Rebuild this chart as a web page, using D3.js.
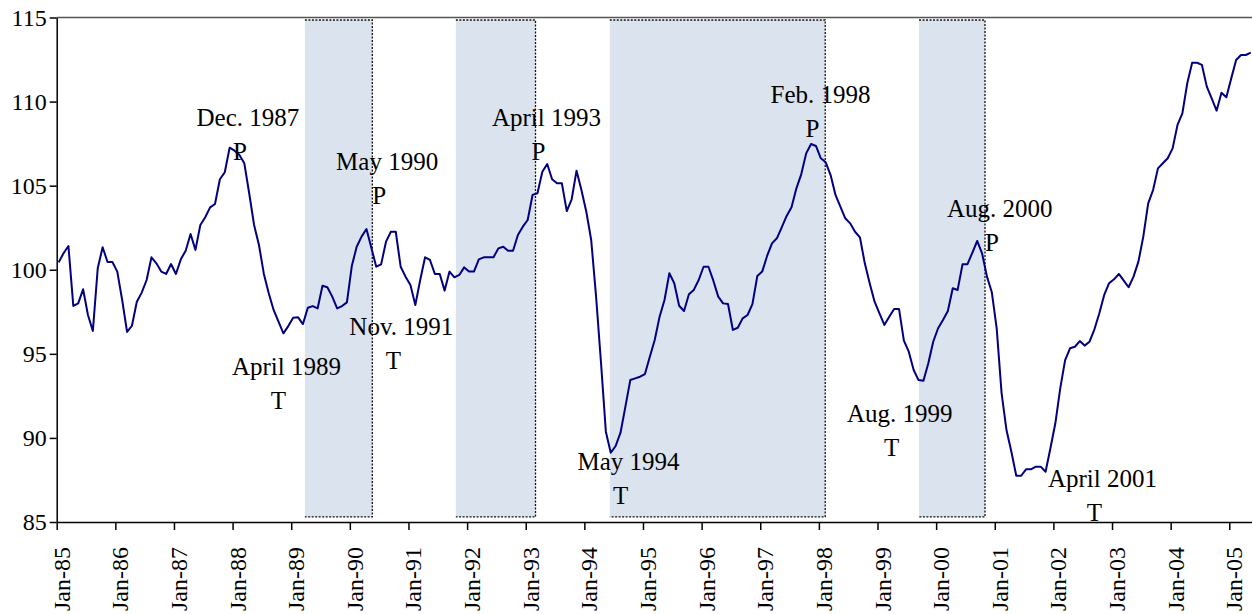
<!DOCTYPE html>
<html lang="en">
<head>
    <meta charset="UTF-8">
    <title>Index with peaks and troughs</title>
    <style>
        body {
            margin: 0;
            background: #fff;
        }

        svg text {
            font-family: "Liberation Serif", "Times New Roman", serif;
            fill: #000;
        }
    </style>
</head>
<body>
    <svg id="chart" width="1252" height="614"></svg>
    <script src="https://cdn.jsdelivr.net/npm/d3@7/dist/d3.min.js"></script>
    <script>
        // monthly index, Jan 1985 .. May 2005
        const values = [
            100.44, 100.98, 101.41, 97.85, 98.0, 98.84, 97.31, 96.36, 100.09, 101.34, 100.46, 100.46,
            99.89, 98.2, 96.3, 96.67, 98.1, 98.64, 99.39, 100.74, 100.38, 99.89, 99.75, 100.34,
            99.75, 100.62, 101.13, 102.13, 101.18, 102.66, 103.12, 103.71, 103.91, 105.38, 105.8, 107.26,
            107.08, 106.82, 106.33, 104.55, 102.66, 101.47, 99.75, 98.6, 97.61, 96.91, 96.22, 96.65,
            97.15, 97.17, 96.77, 97.74, 97.84, 97.7, 99.05, 98.96, 98.4, 97.7, 97.84, 98.06,
            100.22, 101.37, 101.97, 102.42, 101.31, 100.18, 100.32, 101.67, 102.26, 102.26, 100.18, 99.59,
            99.09, 97.9, 99.39, 100.74, 100.58, 99.75, 99.75, 98.76, 99.89, 99.55, 99.69, 100.14,
            99.89, 99.89, 100.62, 100.74, 100.74, 100.74, 101.27, 101.37, 101.13, 101.13, 102.07, 102.56,
            102.96, 104.45, 104.55, 105.83, 106.29, 105.38, 105.14, 105.14, 103.49, 104.19, 105.89, 104.74,
            103.45, 101.77, 98.4, 94.5, 90.37, 89.12, 89.52, 90.31, 91.86, 93.44, 93.54, 93.64,
            93.8, 94.83, 95.82, 97.21, 98.2, 99.79, 99.2, 97.86, 97.55, 98.54, 98.8, 99.39,
            100.18, 100.18, 99.35, 98.4, 98.0, 97.96, 96.42, 96.55, 97.11, 97.31, 97.96, 99.63,
            99.89, 100.82, 101.57, 101.87, 102.52, 103.2, 103.71, 104.84, 105.69, 106.92, 107.48, 107.36,
            106.63, 106.39, 105.63, 104.45, 103.75, 103.06, 102.76, 102.26, 101.93, 100.38, 99.2, 98.1,
            97.41, 96.72, 97.21, 97.67, 97.67, 95.78, 95.13, 94.04, 93.44, 93.4, 94.44, 95.72,
            96.52, 97.01, 97.55, 98.9, 98.8, 100.32, 100.32, 101.01, 101.71, 100.98, 99.59, 98.66,
            96.5, 92.65, 90.47, 89.18, 87.75, 87.75, 88.13, 88.13, 88.29, 88.29, 87.99, 89.4,
            90.87, 92.95, 94.63, 95.33, 95.42, 95.76, 95.49, 95.72, 96.46, 97.41, 98.5, 99.2,
            99.43, 99.75, 99.35, 98.96, 99.59, 100.48, 101.97, 103.95, 104.74, 106.03, 106.33, 106.63,
            107.22, 108.61, 109.3, 111.09, 112.31, 112.31, 112.18, 110.89, 110.19, 109.46, 110.53, 110.26,
            111.38, 112.47, 112.77, 112.77, 112.91
        ];

        const xTickLabels = ["Jan-85", "Jan-86", "Jan-87", "Jan-88", "Jan-89", "Jan-90", "Jan-91",
            "Jan-92", "Jan-93", "Jan-94", "Jan-95", "Jan-96", "Jan-97", "Jan-98", "Jan-99", "Jan-00",
            "Jan-01", "Jan-02", "Jan-03", "Jan-04", "Jan-05"];
        const yTicks = [85, 90, 95, 100, 105, 110, 115];

        // shaded periods, in months since Jan 1985
        const shadeStart = [50.8, 81.7, 113.2, 176.5];
        const shadeEnd = [64.6, 98.0, 157.3, 190.0];
        const shadeTop = 114.85;
        const shadeBottom = 85.3;

        // turning points: where the P / T letter sits (month, index value)
        const annLabels = ["Dec. 1987", "May 1990", "April 1993", "Feb. 1998", "Aug. 2000",
            "April 1989", "Nov. 1991", "May 1994", "Aug. 1999", "April 2001"];
        const annTypes = ["P", "P", "P", "P", "P", "T", "T", "T", "T", "T"];
        const annMonths = [37.5, 66.0, 98.6, 154.7, 191.4, 45.4, 68.9, 115.4, 170.9, 212.4];
        const annValues = [106.5, 103.9, 106.5, 107.9, 101.1, 91.7, 94.1, 86.05, 88.95, 85.05];

        const svg = d3.select("#chart");

        const x = d3.scaleLinear().domain([0, 244.65]).range([56.7, 1252]);
        const y = d3.scaleLinear().domain([85, 115]).range([522, 17.5]);

        // shaded periods
        const shades = svg.append("g");
        shadeStart.forEach((s, i) => {
            const x0 = x(s), x1 = x(shadeEnd[i]);
            const yt = y(shadeTop), yb = y(shadeBottom);
            shades.append("rect")
                .attr("x", x0).attr("y", yt)
                .attr("width", x1 - x0).attr("height", yb - yt)
                .attr("fill", "#dbe3ee");
            shades.append("path")
                .attr("d", `M${x0},${yt}H${x1}V${yb}H${x0}`)
                .attr("fill", "none")
                .attr("stroke", "#111")
                .attr("stroke-width", 1.3)
                .attr("stroke-dasharray", "2,1.5");
        });

        // frame top line
        svg.append("line")
            .attr("x1", x.range()[0]).attr("x2", x.range()[1])
            .attr("y1", y(115)).attr("y2", y(115))
            .attr("stroke", "#555").attr("stroke-width", 1.5);

        // y axis
        const yAxis = svg.append("g")
            .attr("transform", `translate(${x.range()[0]},0)`)
            .call(d3.axisLeft(y).tickValues(yTicks).tickSize(7).tickSizeOuter(0).tickPadding(3));
        yAxis.selectAll("text").style("font-size", "24px").attr("dy", "0.33em");

        // x axis
        const xAxis = svg.append("g")
            .attr("transform", `translate(0,${y(85)})`)
            .call(d3.axisBottom(x)
                .tickValues(d3.range(0, 241, 12))
                .tickFormat((d, i) => xTickLabels[i])
                .tickSize(8)
                .tickSizeOuter(0));
        xAxis.selectAll("text")
            .style("font-size", "24px")
            .attr("transform", "rotate(-90)")
            .attr("text-anchor", "end")
            .attr("x", -25)
            .attr("y", 12.5)
            .attr("dy", 0);

        svg.selectAll(".domain, .tick line").attr("stroke", "#000").attr("stroke-width", 1.5);

        // index line, each month plotted a little into the month
        const line = d3.line()
            .x((d, i) => x(i + 0.4))
            .y(d => y(d));

        svg.append("path")
            .datum(values)
            .attr("d", line)
            .attr("fill", "none")
            .attr("stroke", "#000080")
            .attr("stroke-width", 2)
            .attr("stroke-linejoin", "round");

        // turning point labels
        const ann = svg.append("g").style("font-size", "25px");
        annLabels.forEach((lab, i) => {
            const ax = x(annMonths[i]), ay = y(annValues[i]);
            ann.append("text")
                .attr("x", ax).attr("y", ay)
                .attr("text-anchor", "middle")
                .text(annTypes[i]);
            ann.append("text")
                .attr("x", ax + 8).attr("y", ay - 34)
                .attr("text-anchor", "middle")
                .text(lab);
        });
    </script>
</body>
</html>
